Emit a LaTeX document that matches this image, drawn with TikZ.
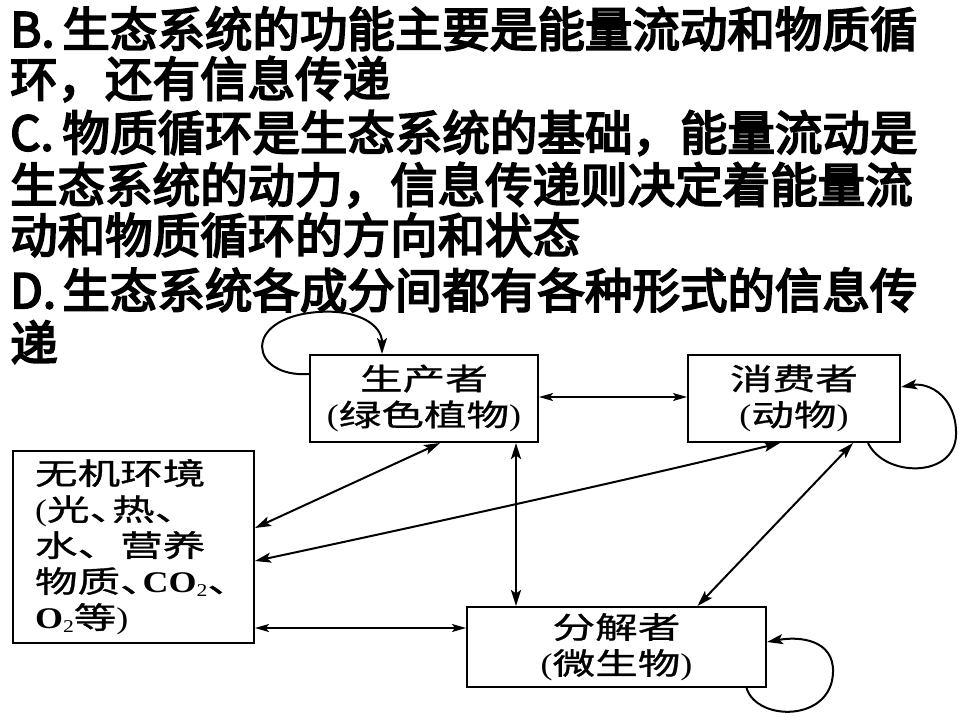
\documentclass[tikz,border=0pt]{standalone}
\usepackage{fontspec}
\usetikzlibrary{arrows.meta}
\newfontfamily\hei{Noto Sans CJK SC}[FakeBold=4]
\newfontfamily\song{Noto Sans CJK SC}[FakeStretch=1.42,FakeBold=1]
\newfontfamily\tms{Liberation Serif}[FakeStretch=1.2]
\newcommand\lbl[1]{\makebox[1.1em][l]{#1}}
\newcommand\pl{{\tms(}}
\newcommand\pr{{\tms)}}
\newcommand\dn{\makebox[0.75em][l]{、}}
\newcommand\subtwo{\raisebox{-0.3ex}{\fontsize{18}{18}\selectfont\mdseries 2}}
\begin{document}
\begin{tikzpicture}[x=1pt,y=-1pt,
  txtline/.style={anchor=west,inner sep=0pt,font=\hei\fontsize{47.5}{47.5}\selectfont},
  box/.style={draw,line width=2pt,inner sep=0pt,font=\song\fontsize{30}{36}\selectfont},
  headA/.style={-{Stealth[length=16pt,width=10pt,inset=3.5pt]}},
  dbl/.style={{Stealth[length=16pt,width=10pt,inset=3.5pt]}-{Stealth[length=16pt,width=10pt,inset=3.5pt]}},
  dblthin/.style={{Stealth[length=14pt,width=8pt,inset=3pt]}-{Stealth[length=14pt,width=8pt,inset=3pt]}},
  lwa/.style={line width=1.5pt},
  lwb/.style={line width=2pt},
  lwc/.style={line width=2.6pt}]
\useasboundingbox (0,0) rectangle (960,720);
\fill[white] (0,0) rectangle (960,720);
% question text
\node[txtline] (l1) at (10,29) {\lbl{B.}生态系统的功能主要是能量流动和物质循};
\node[txtline] (l2) at (10,79) {环，还有信息传递};
\node[txtline] (l3) at (10,133) {\lbl{C.}物质循环是生态系统的基础，能量流动是};
\node[txtline] (l4) at (10,185) {生态系统的动力，信息传递则决定着能量流};
\node[txtline] (l5) at (10,235) {动和物质循环的方向和状态};
\node[txtline] (l6) at (10,290) {\lbl{D.}生态系统各成分间都有各种形式的信息传};
\node[txtline] (l7) at (10,342) {递};
% boxes
\node[box,minimum width=228pt,minimum height=87pt,align=center] (prod) at (424,398.5)
  {生产者\\\pl 绿色植物\pr};
\node[box,minimum width=212pt,minimum height=87pt,align=center] (cons) at (794,398.5)
  {消费者\\\pl 动物\pr};
\node[box,minimum width=299pt,minimum height=80pt,align=center] (dec) at (616.5,647)
  {分解者\\\pl 微生物\pr};
\node[box,minimum width=241pt,minimum height=192pt,text width=197pt,align=left] (env) at (133.5,547)
  {无机环境\\\pl 光\dn 热、\\水、营养\\物质\dn{\tms\bfseries\fontsize{30}{36}\selectfont CO\subtwo}\dn\\{\tms\bfseries\fontsize{30}{36}\selectfont O\subtwo}等\pr};
% connectors
\draw[headA,lwb] ([yshift=24.5pt]prod.west) .. controls (250,378) and (240,318) .. (318,312)
  .. controls (358,309) and (382,325) .. ([xshift=-42pt]prod.north);
\draw[dblthin,lwa] ([yshift=1.5pt]prod.east) -- ([yshift=1.5pt]cons.west);
\draw[dbl,lwc] ([xshift=92pt]prod.south) -- ([xshift=-100.5pt]dec.north);
\draw[dbl,lwb] ([xshift=16pt]prod.south) -- ([yshift=19pt]env.east);
\draw[dbl,lwb] ([yshift=-14pt]env.east) .. controls (330,545) and (600,487) .. ([xshift=-14pt]cons.south);
\draw[dbl,lwb] ([xshift=59pt]cons.south) -- ([xshift=81pt]dec.north);
\draw[dblthin,lwa] ([yshift=-81pt]env.east) -- ([yshift=19pt]dec.west);
\draw[headA,lwb] ([xshift=74pt]cons.south) .. controls (885,478) and (955,478) .. (956,435)
  .. controls (957,398) and (930,382) .. ([yshift=11.5pt]cons.east);
\draw[headA,lwb] ([xshift=130pt]dec.south) .. controls (757,722) and (832,722) .. (833,672)
  .. controls (834,640) and (800,636) .. ([yshift=5pt]dec.east);
\end{tikzpicture}
\end{document}
